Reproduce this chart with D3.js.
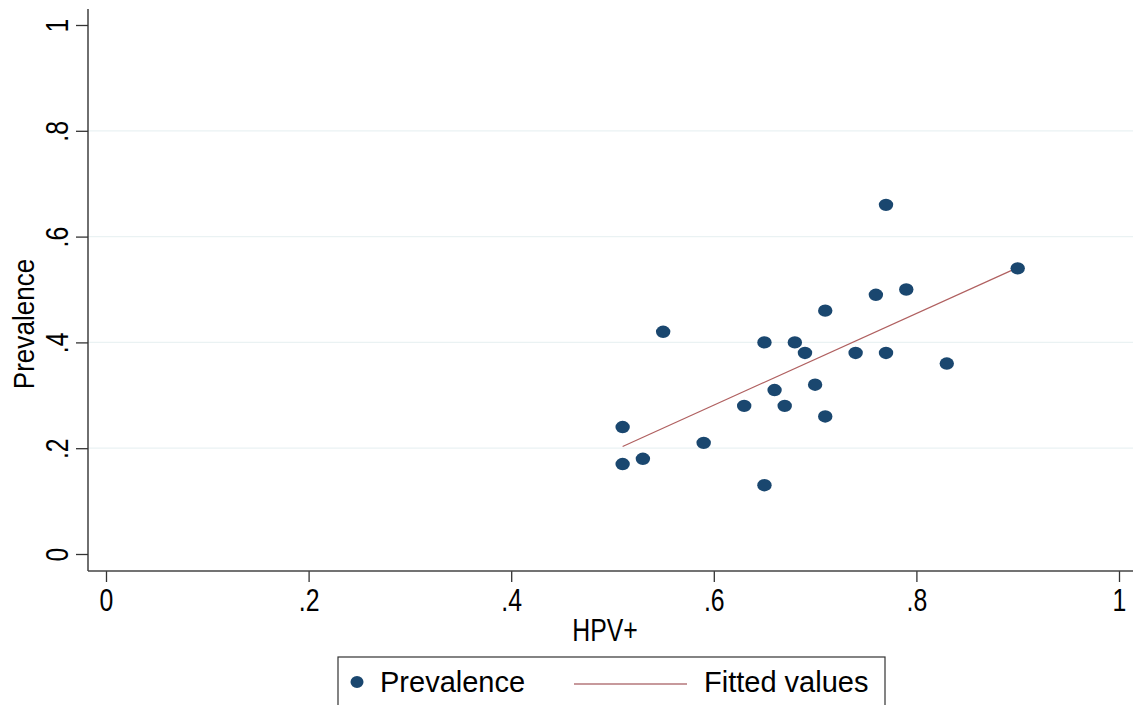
<!DOCTYPE html>
<html>
<head>
<meta charset="utf-8">
<script src="https://cdn.jsdelivr.net/npm/d3@7"></script>
<style>
  html, body { margin: 0; padding: 0; background: #fff; }
  svg { display: block; }
  text { font-family: "Liberation Sans", Arial, sans-serif; fill: #000; }
</style>
</head>
<body>
<svg id="chart" width="1133" height="705"></svg>
<script>
// Share of HPV+ cases vs. prevalence, one point per group
const hpvPositive = [0.77, 0.90, 0.76, 0.79, 0.71, 0.55, 0.65, 0.68, 0.69, 0.74, 0.77,
                     0.83, 0.70, 0.66, 0.63, 0.67, 0.71, 0.51, 0.59, 0.53, 0.51, 0.65];
const prevalence  = [0.66, 0.54, 0.49, 0.50, 0.46, 0.42, 0.40, 0.40, 0.38, 0.38, 0.38,
                     0.36, 0.32, 0.31, 0.28, 0.28, 0.26, 0.24, 0.21, 0.18, 0.17, 0.13];
const tickValues = [0, 0.2, 0.4, 0.6, 0.8, 1];
const tickLabels = ["0", ".2", ".4", ".6", ".8", "1"];
const gridValues = [0.2, 0.4, 0.6, 0.8];
const legendLabels = ["Prevalence", "Fitted values"];

const svg = d3.select("#chart");
const x = d3.scaleLinear().domain([0, 1]).range([106, 1119]);
const y = d3.scaleLinear().domain([0, 1]).range([554, 25]);
const axisX = 88, axisY = 571, plotRight = 1133, plotTop = 9;

// Least-squares line through the points
const mx = d3.mean(hpvPositive), my = d3.mean(prevalence);
const sxy = d3.sum(hpvPositive, (v, i) => (v - mx) * (prevalence[i] - my));
const sxx = d3.sum(hpvPositive, v => (v - mx) * (v - mx));
const slope = sxy / sxx, intercept = my - slope * mx;
const xExtent = d3.extent(hpvPositive);
const fitted = xExtent.map(v => ({ x: v, y: intercept + slope * v }));

// Horizontal grid lines
svg.append("g").selectAll("line").data(gridValues).join("line")
  .attr("x1", axisX).attr("x2", plotRight)
  .attr("y1", d => y(d)).attr("y2", d => y(d))
  .attr("stroke", "#eaf2f3").attr("stroke-width", 1.2);

// Y axis
const yAxis = svg.append("g").attr("transform", `translate(${axisX},0)`)
  .call(d3.axisLeft(y).tickValues(tickValues).tickFormat((d, i) => tickLabels[i])
        .tickSize(12).tickPadding(6));
yAxis.select(".domain").remove();
yAxis.selectAll(".tick line").attr("stroke", "#333").attr("stroke-width", 1.3);
yAxis.selectAll(".tick text")
  .attr("font-size", 31).attr("text-anchor", "middle").attr("dy", 0)
  .attr("x", 0).attr("y", 0)
  .attr("transform", "translate(-20,0) rotate(-90) scale(0.8,1)");
svg.append("line").attr("x1", axisX).attr("x2", axisX)
  .attr("y1", plotTop).attr("y2", axisY)
  .attr("stroke", "#333").attr("stroke-width", 1.4);

// X axis
const xAxis = svg.append("g").attr("transform", `translate(0,${axisY})`)
  .call(d3.axisBottom(x).tickValues(tickValues).tickFormat((d, i) => tickLabels[i])
        .tickSize(11).tickPadding(7));
xAxis.select(".domain").remove();
xAxis.selectAll(".tick line").attr("stroke", "#333").attr("stroke-width", 1.3);
xAxis.selectAll(".tick text")
  .attr("font-size", 31).attr("dy", "0.71em")
  .attr("transform", "scale(0.8,1)");
svg.append("line").attr("x1", axisX).attr("x2", plotRight)
  .attr("y1", axisY).attr("y2", axisY)
  .attr("stroke", "#444").attr("stroke-width", 1.6);

// Axis titles
svg.append("text").attr("transform", "translate(605,641) scale(0.8,1)")
  .attr("text-anchor", "middle").attr("font-size", 31).text("HPV+");
svg.append("text").attr("transform", "translate(34,324) rotate(-90) scale(0.9,1)")
  .attr("text-anchor", "middle").attr("font-size", 29).text("Prevalence");

// Fitted line
svg.append("line")
  .attr("x1", x(fitted[0].x)).attr("y1", y(fitted[0].y))
  .attr("x2", x(fitted[1].x)).attr("y2", y(fitted[1].y))
  .attr("stroke", "#b06060").attr("stroke-width", 1.2);

// Points
svg.append("g").selectAll("ellipse").data(hpvPositive).join("ellipse")
  .attr("cx", d => x(d)).attr("cy", (d, i) => y(prevalence[i]))
  .attr("rx", 7.2).attr("ry", 6.2)
  .attr("fill", "#1a476f");

// Legend
const lg = svg.append("g");
lg.append("rect").attr("x", 338).attr("y", 657).attr("width", 547).attr("height", 60)
  .attr("fill", "#fff").attr("stroke", "#333").attr("stroke-width", 1.2);
lg.append("ellipse").attr("cx", 357).attr("cy", 682).attr("rx", 6.5).attr("ry", 6).attr("fill", "#1a476f");
lg.append("text").attr("x", 380).attr("y", 692).attr("font-size", 29).text(legendLabels[0]);
lg.append("line").attr("x1", 574).attr("x2", 687).attr("y1", 684).attr("y2", 684)
  .attr("stroke", "#90353b").attr("stroke-width", 1.2);
lg.append("text").attr("x", 704).attr("y", 692).attr("font-size", 29).text(legendLabels[1]);
</script>
</body>
</html>
